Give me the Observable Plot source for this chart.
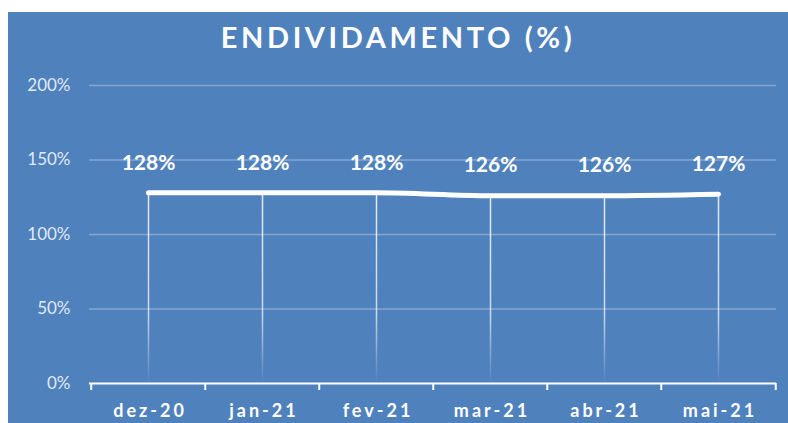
<!DOCTYPE html>
<html><head><meta charset="utf-8">
<script src="https://cdn.jsdelivr.net/npm/d3@7"></script>
<script src="https://cdn.jsdelivr.net/npm/@observablehq/plot@0.6"></script>
<style>
html,body{margin:0;padding:0;background:#fff;}
#panel{position:absolute;left:8px;top:12px;width:780px;height:411px;background:#4f81bd;overflow:hidden;font-family:Lato,sans-serif;}
#title{height:50px;line-height:50px;text-align:center;color:#fff;font-weight:700;font-size:29px;letter-spacing:3.6px;}
#chart svg{display:block;background:transparent;}
g[aria-label="x-axis tick label"] text{letter-spacing:3px;}
</style></head><body>
<div id="panel"><div id="title">ENDIVIDAMENTO (%)</div><div id="chart"></div></div>
<script>
const months = ["dez-20","jan-21","fev-21","mar-21","abr-21","mai-21"];
const values = [128,128,128,126,126,127];
const yTicks = [0,50,100,150,200];
const data = months.map((m,i)=>({month:m, value:values[i]}));
const W=780,H=361,ML=81,MR=12,MT=23,MB=40;
const step=(W-ML-MR)/months.length;
const chart = Plot.plot({
 width:W,height:H,marginLeft:ML,marginRight:MR,marginTop:MT,marginBottom:MB,
 style:{background:"transparent",fontFamily:"Lato, sans-serif",color:"#fff"},
 x:{type:"point",domain:months,padding:0.5,label:null},
 y:{domain:[0,200],label:null},
 marks:[
  Plot.ruleY(yTicks.filter(d=>d>0),{stroke:"#fff",strokeOpacity:0.3,strokeWidth:1.5}),
  Plot.ruleX(data,{x:"month",y1:0,y2:"value",stroke:"url(#dropfade)",strokeWidth:1.5}),
  Plot.line(data,{x:"month",y:"value",stroke:"#fff",strokeWidth:5,curve:"monotone-x",strokeLinecap:"round"}),
  Plot.ruleY([0],{stroke:"#fff",strokeWidth:2}),
  Plot.ruleX(months,{x:d=>d,y1:0,y2:0,insetBottom:-7,dx:-step/2,stroke:"#fff",strokeWidth:2}),
  Plot.ruleX([months[months.length-1]],{x:d=>d,y1:0,y2:0,insetBottom:-7,dx:step/2,stroke:"#fff",strokeWidth:2}),
  Plot.text(data,{x:"month",y:"value",text:d=>d.value+"%",dy:-30,fill:"#fff",fontWeight:"bold",fontSize:21}),
  Plot.axisY({ticks:yTicks,tickFormat:d=>d+"%",tickSize:0,tickPadding:19,fontSize:17,fill:"rgba(255,255,255,0.85)",label:null}),
  Plot.axisX({tickSize:0,tickPadding:21,fontSize:18,fontWeight:"bold",fill:"#fff",dx:1.5,label:null})
 ]
});
const y = chart.scale("y");
const grad = d3.select(chart).insert("defs",":first-child").append("linearGradient")
  .attr("id","dropfade").attr("gradientUnits","userSpaceOnUse")
  .attr("x1",0).attr("x2",0).attr("y1",y.apply(130)).attr("y2",y.apply(0));
grad.append("stop").attr("offset",0).attr("stop-color","#fff").attr("stop-opacity",0.85);
grad.append("stop").attr("offset",0.65).attr("stop-color","#fff").attr("stop-opacity",0.7);
grad.append("stop").attr("offset",1).attr("stop-color","#fff").attr("stop-opacity",0);
document.getElementById("chart").appendChild(chart);
</script>
</body></html>
